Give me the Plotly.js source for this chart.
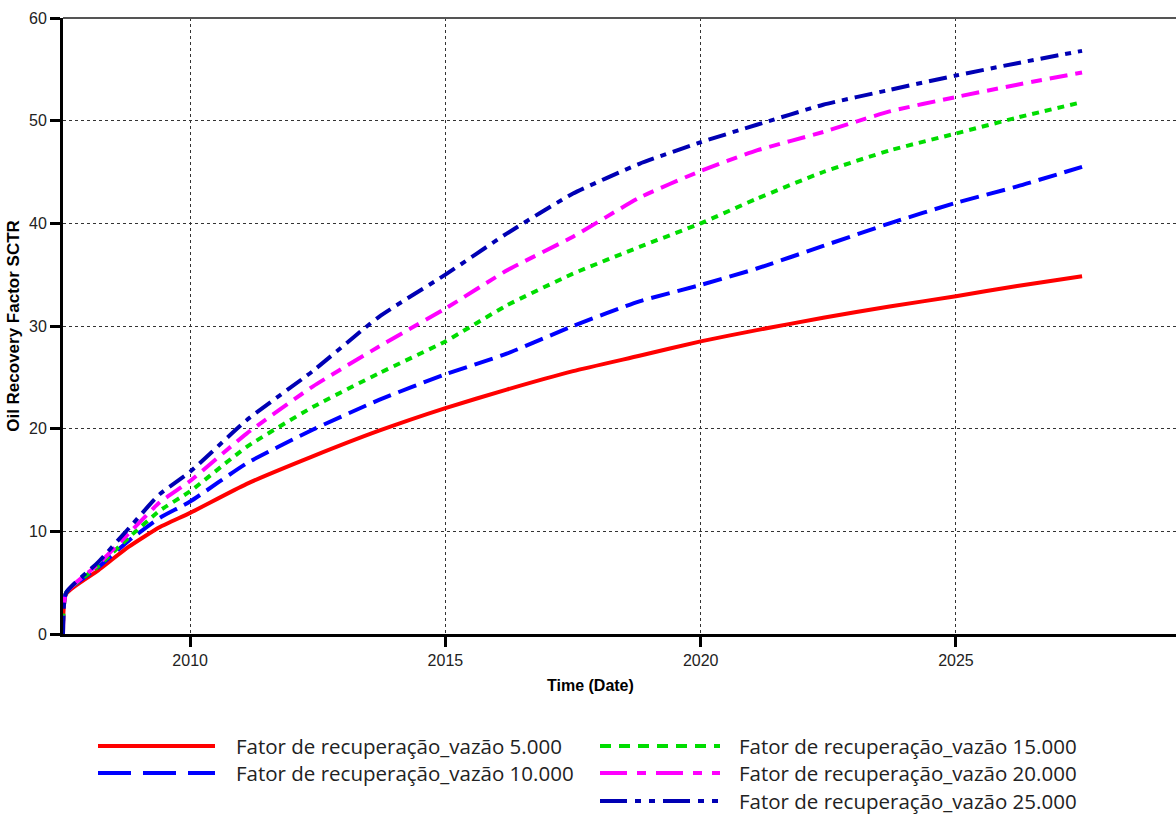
<!DOCTYPE html>
<html>
<head>
<meta charset="utf-8">
<script src="https://cdn.plot.ly/plotly-3.0.1.min.js"></script>
<style>html,body{margin:0;padding:0;background:#fff;}#chart{width:1176px;height:814px;}</style>
</head>
<body>
<div id="chart"></div>
<script>
// Time in decimal years
const years = [2007.51, 2007.57, 2008.2, 2008.8, 2009.4, 2010.0, 2011.1, 2012.4, 2013.7, 2015.0, 2016.2, 2017.5, 2018.8, 2020.0, 2021.1, 2022.4, 2023.7, 2025.0, 2026.2, 2027.47];

const rf5000  = [0, 3.9, 6.2, 8.5, 10.4, 11.8, 14.6, 17.3, 19.8, 22.0, 23.8, 25.6, 27.1, 28.5, 29.6, 30.8, 31.9, 32.9, 33.9, 34.85];
const rf10000 = [0, 4.0, 6.5, 9.1, 11.3, 12.9, 16.6, 19.9, 22.8, 25.3, 27.3, 30.0, 32.4, 34.0, 35.6, 37.8, 40.0, 42.0, 43.6, 45.5];
const rf15000 = [0, 4.0, 6.6, 9.4, 12.0, 13.9, 18.2, 22.1, 25.4, 28.5, 32.0, 35.1, 37.7, 40.0, 42.4, 45.0, 47.1, 48.75, 50.3, 51.8];
const rf20000 = [0, 4.0, 6.8, 9.8, 12.8, 14.9, 19.5, 24.1, 28.0, 31.7, 35.4, 38.7, 42.5, 45.1, 47.1, 48.9, 50.9, 52.3, 53.5, 54.7];
const rf25000 = [0, 4.0, 7.0, 10.3, 13.6, 15.8, 20.8, 25.6, 30.9, 35.0, 39.0, 42.9, 45.8, 47.9, 49.6, 51.55, 53.0, 54.4, 55.6, 56.8];

const seriesNames = [
  "Fator de recuperação_vazão 5.000",
  "Fator de recuperação_vazão 10.000",
  "Fator de recuperação_vazão 15.000",
  "Fator de recuperação_vazão 20.000",
  "Fator de recuperação_vazão 25.000"
];
const seriesValues = [rf5000, rf10000, rf15000, rf20000, rf25000];
const seriesColors = ["#ff0000", "#0000ff", "#00dd00", "#ff00ff", "#0000b4"];
const plotDashes = ["solid", "19px,8px", "7px,6px", "18px,8px,11px,8px", "18px,7px,6px,7px"];
const legendDashes = ["solid", "33px,12px", "11px,8px", "27px,10px,9px,10px", "27px,8px,6px,8px,6px,8px"];

const xTicks = [2010, 2015, 2020, 2025];
const yTicks = [0, 10, 20, 30, 40, 50, 60];

const W = 1176, H = 814;
const mL = 63, mR = 0, mT = 18, mB = 180;
const pw = W - mL - mR, ph = H - mT - mB;
const px = v => (v - mL) / pw;
const py = v => (H - mB - v) / ph;

const traces = seriesValues.map((vals, i) => ({
  x: years, y: vals, type: "scatter", mode: "lines",
  name: seriesNames[i], showlegend: false,
  line: {color: seriesColors[i], width: 4, dash: plotDashes[i], shape: "spline", smoothing: 0.5}
}));

// manual legend
const legFont = {family: "Open Sans, Noto Sans, sans-serif", size: 20.5, color: "#222"};
const legCols = [{x0: 98, x1: 215, tx: 234}, {x0: 600, x1: 720, tx: 737}];
const legRowsY = [746, 773, 801];
const shapes = [{type: "line", xref: "paper", yref: "paper", x0: 0, x1: 1, y0: 1, y1: 1, line: {color: "#555", width: 2}}];
const annotations = [];
seriesNames.forEach((nm, i) => {
  const c = i < 2 ? legCols[0] : legCols[1];
  const r = i < 2 ? i : i - 2;
  const yy = legRowsY[r];
  shapes.push({type: "line", xref: "paper", yref: "paper", x0: px(c.x0), x1: px(c.x1), y0: py(yy), y1: py(yy),
    line: {color: seriesColors[i], width: 4, dash: legendDashes[i]}});
  annotations.push({xref: "paper", yref: "paper", x: px(c.tx), y: py(yy), xanchor: "left", yanchor: "middle",
    text: nm, showarrow: false, font: legFont});
});
annotations.push({xref: "paper", yref: "paper", x: px(590), y: py(685), xanchor: "center", yanchor: "middle",
  text: "<b>Time (Date)</b>", showarrow: false, font: {family: "Liberation Sans, Arial, sans-serif", size: 16, color: "#000"}});

const layout = {
  width: W, height: H,
  margin: {l: mL, r: mR, t: mT, b: mB, pad: 0},
  paper_bgcolor: "#fff", plot_bgcolor: "#fff",
  font: {family: "Liberation Sans, Arial, sans-serif", size: 16, color: "#222"},
  xaxis: {
    range: [2007.51, 2029.31], tickvals: xTicks, ticktext: xTicks.map(String),
    showline: true, linecolor: "#000", linewidth: 3,
    ticks: "outside", ticklen: 10, tickwidth: 3, tickcolor: "#000",
    showgrid: true, gridcolor: "#333", gridwidth: 1, griddash: "3px,3px",
    zeroline: false, tickfont: {size: 16, color: "#222"}
  },
  yaxis: {
    range: [0, 60], tickvals: yTicks,
    showline: true, linecolor: "#000", linewidth: 3,
    ticks: "outside", ticklen: 10, tickwidth: 3, tickcolor: "#000",
    showgrid: true, gridcolor: "#333", gridwidth: 1, griddash: "3px,3px",
    zeroline: false, tickfont: {size: 16, color: "#222"},
    title: {text: "<b>Oil Recovery Factor SCTR</b>", font: {size: 17, color: "#000"}, standoff: 6}
  },
  shapes: shapes,
  annotations: annotations,
  showlegend: false
};

Plotly.newPlot("chart", traces, layout, {displayModeBar: false, staticPlot: true});
</script>
</body>
</html>
